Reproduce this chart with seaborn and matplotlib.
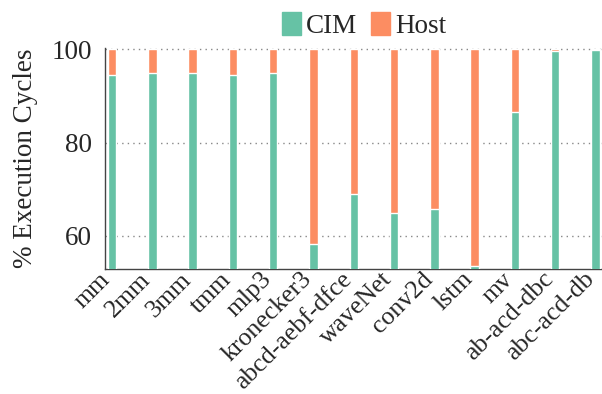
import pandas as pd
import matplotlib
matplotlib.use("Agg")
import matplotlib.pyplot as plt
import matplotlib.transforms as mtransforms
from matplotlib.patches import Patch
import seaborn as sns

benchmarks = ["mm", "2mm", "3mm", "tmm", "mlp3", "kronecker3", "abcd-aebf-dfce",
              "waveNet", "conv2d", "lstm", "mv", "ab-acd-dbc", "abc-acd-db"]
cim_pct = [94.5, 94.9, 95.0, 94.5, 95.0, 58.2, 69.1, 64.9, 65.8, 53.6, 86.6, 99.6, 99.9]
host_pct = [100 - c for c in cim_pct]

cim_color = "#66c2a5"
host_color = "#fc8d62"

df = pd.DataFrame({"Benchmark": benchmarks, "CIM": cim_pct, "Host": host_pct})
df["Total"] = df["CIM"] + df["Host"]

sns.set_style("white")
plt.rcParams["font.family"] = "serif"
plt.rcParams["font.serif"] = ["Liberation Serif", "DejaVu Serif"]
plt.rcParams["font.size"] = 19.5

fig = plt.figure(figsize=(6.02, 3.94), dpi=100)
ax = fig.add_axes([0.174, 0.317, 0.826, 0.561])

# stacked: host on top of CIM -> draw total first, then CIM over it
sns.barplot(data=df, x="Benchmark", y="Total", color=host_color, width=0.21,
            saturation=1, ax=ax, zorder=2)
sns.barplot(data=df, x="Benchmark", y="CIM", color=cim_color, width=0.21,
            saturation=1, ax=ax, zorder=3)

ax.set_ylim(52.9, 100.3)
ax.set_xlim(-0.18, 12.16)
ax.set_yticks([60, 80, 100])
ax.yaxis.grid(True, linestyle=(0, (1, 3)), color="#888888", linewidth=1)
ax.set_axisbelow(True)
ax.set_xlabel("")
ax.set_ylabel("% Execution Cycles", labelpad=10)
ax.set_xticks(range(len(benchmarks)))
ax.set_xticklabels(benchmarks, rotation=45, ha="right", va="center",
                   rotation_mode="anchor", fontsize=18.5)
ax.tick_params(axis="x", length=0, pad=5)
ax.tick_params(axis="y", direction="in", length=4, width=0.8, color="#aaaaaa", pad=9)

# nudge tick labels slightly left
shift = mtransforms.ScaledTranslation(-5 / 100, 0, fig.dpi_scale_trans)
for lbl in ax.get_xticklabels():
    lbl.set_transform(lbl.get_transform() + shift)

for s in ["top", "right"]:
    ax.spines[s].set_visible(False)
for s in ["left", "bottom"]:
    ax.spines[s].set_color("#444444")
    ax.spines[s].set_linewidth(1.0)

handles = [Patch(color=cim_color, label="CIM"), Patch(color=host_color, label="Host")]
fig.legend(handles=handles, loc="center", bbox_to_anchor=(0.605, 0.935), ncol=2,
           frameon=False, handlelength=0.7, handleheight=0.9, handletextpad=0.2,
           columnspacing=0.5, borderpad=0)

fig.savefig("out.png", dpi=100)
